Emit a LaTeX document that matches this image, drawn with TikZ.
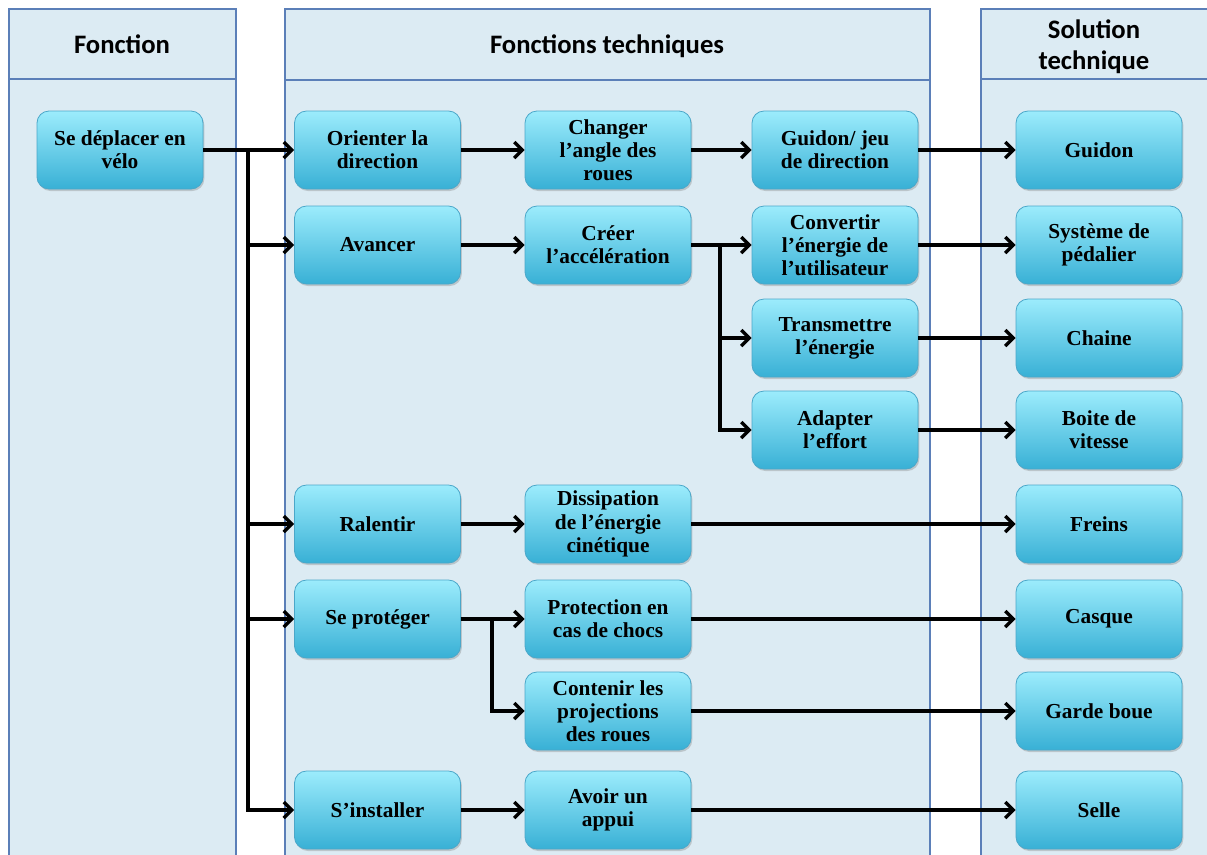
\documentclass[tikz,border=0pt]{standalone}
\usepackage{fontspec}
\setmainfont{Liberation Serif}
\newfontfamily\hdfont{Carlito}
\usetikzlibrary{arrows.meta,shadows,calc}
\definecolor{panelfill}{HTML}{DCEBF3}
\definecolor{panelline}{HTML}{5B7FB8}
\definecolor{boxtop}{HTML}{9CECFC}
\definecolor{boxbot}{HTML}{38B0D5}
\definecolor{boxline}{HTML}{4BA7C9}
\tikzset{
  panel/.style={draw=panelline, fill=panelfill, line width=0.9pt},
  fbox/.style={rounded corners=9pt, draw=boxline, line width=0.6pt,
    top color=boxtop, bottom color=boxbot,
    minimum width=124.5pt, minimum height=58.5pt, inner sep=0pt,
    align=center, font=\bfseries\fontsize{16}{17.4}\selectfont,
    drop shadow={opacity=0.35, shadow xshift=1pt, shadow yshift=-1.5pt}},
  hdr/.style={font=\hdfont\bfseries\fontsize{20}{23.5}\selectfont, align=center},
  arr/.style={line width=2.5pt, -{Straight Barb[length=6pt,width=12pt]}},
}
\begin{document}
\begin{tikzpicture}[x=0.75pt,y=-0.75pt]
\useasboundingbox (0,0) rectangle (1207,854);
% panels
\draw[panel] (9,79) rectangle (236,880);
\draw[panel] (9,9) rectangle (236,79);
\draw[panel] (285,80) rectangle (930,880);
\draw[panel] (285,9) rectangle (930,80);
\draw[panel] (981,79) rectangle (1240,880);
\draw[panel] (981,9) rectangle (1240,79);
\node[hdr] (h1) at (122,44) {Fonction};
\node[hdr] (h2) at (607,46) {Fonctions techniques};
\node[hdr] (h3) at (1094,46.5) {Solution\\technique};
% column 1
\node[fbox] (se) at (120,150) {Se déplacer en\\vélo};
% column 2a
\node[fbox] (ori) at (377.5,150) {Orienter la\\direction};
\node[fbox] (ava) at (377.5,245) {Avancer};
\node[fbox] (ral) at (377.5,524) {Ralentir};
\node[fbox] (pro) at (377.5,619) {Se protéger};
\node[fbox] (ins) at (377.5,810) {S’installer};
% column 2b
\node[fbox] (cha) at (608,150) {Changer\\l’angle des\\roues};
\node[fbox] (cre) at (608,245) {Créer\\l’accélération};
\node[fbox] (dis) at (608,524) {Dissipation\\de l’énergie\\cinétique};
\node[fbox] (pch) at (608,619) {Protection en\\cas de chocs};
\node[fbox] (con) at (608,711) {Contenir les\\projections\\des roues};
\node[fbox] (app) at (608,810) {Avoir un\\appui};
% column 2c
\node[fbox] (gjd) at (835,150) {Guidon/ jeu\\de direction};
\node[fbox] (cnv) at (835,245) {Convertir\\l’énergie de\\l’utilisateur};
\node[fbox] (tra) at (835,338) {Transmettre\\l’énergie};
\node[fbox] (ada) at (835,430) {Adapter\\l’effort};
% column 3
\node[fbox] (gui) at (1099,150) {Guidon};
\node[fbox] (ped) at (1099,245) {Système de\\pédalier};
\node[fbox] (chn) at (1099,338) {Chaine};
\node[fbox] (bdv) at (1099,430) {Boite de\\vitesse};
\node[fbox] (fre) at (1099,524) {Freins};
\node[fbox] (cas) at (1099,619) {Casque};
\node[fbox] (gbo) at (1099,711) {Garde boue};
\node[fbox] (sel) at (1099,810) {Selle};
% trunks
\coordinate (t1) at (248,150);
\coordinate (t2) at (720,245);
\coordinate (t3) at (492,619);
\draw[arr] (se.east) -- (ori.west);
\draw[arr] (se.east) -- (t1) |- (ava.west);
\draw[arr] (se.east) -- (t1) |- (ral.west);
\draw[arr] (se.east) -- (t1) |- (pro.west);
\draw[arr] (se.east) -- (t1) |- (ins.west);
\draw[arr] (ori.east) -- (cha.west);
\draw[arr] (ava.east) -- (cre.west);
\draw[arr] (ral.east) -- (dis.west);
\draw[arr] (pro.east) -- (pch.west);
\draw[arr] (pro.east) -- (t3) |- (con.west);
\draw[arr] (ins.east) -- (app.west);
\draw[arr] (cha.east) -- (gjd.west);
\draw[arr] (cre.east) -- (cnv.west);
\draw[arr] (cre.east) -- (t2) |- (tra.west);
\draw[arr] (cre.east) -- (t2) |- (ada.west);
\draw[arr] (gjd.east) -- (gui.west);
\draw[arr] (cnv.east) -- (ped.west);
\draw[arr] (tra.east) -- (chn.west);
\draw[arr] (ada.east) -- (bdv.west);
\draw[arr] (dis.east) -- (fre.west);
\draw[arr] (pch.east) -- (cas.west);
\draw[arr] (con.east) -- (gbo.west);
\draw[arr] (app.east) -- (sel.west);
\end{tikzpicture}
\end{document}
